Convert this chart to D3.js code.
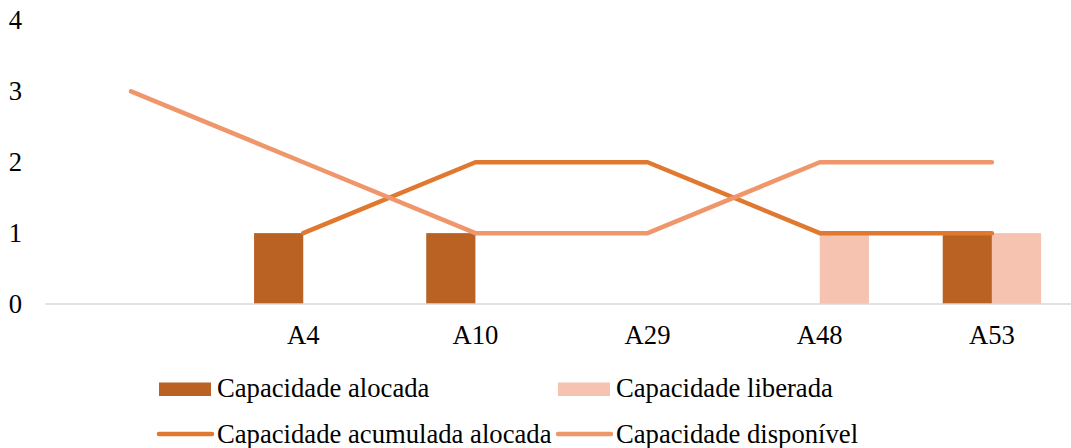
<!DOCTYPE html>
<html>
<head>
<meta charset="utf-8">
<script src="https://cdn.jsdelivr.net/npm/d3@7"></script>
<style>
  html, body { margin: 0; padding: 0; background: #fff; }
  svg { display: block; }
  text { font-family: "Liberation Serif", "Times New Roman", serif; fill: #000; }
</style>
</head>
<body>
<svg id="chart" width="1071" height="448"></svg>
<script>
// Categories along the x axis (first slot is unlabeled)
const categories = ["", "A4", "A10", "A29", "A48", "A53"];
// Bar series
const capAlocada   = [null, 1, 1, null, null, 1];
const capLiberada  = [null, null, null, null, 1, 1];
// Line series
const capAcumulada = [null, 1, 2, 2, 1, 1];
const capDisponivel = [3, 2, 1, 1, 2, 2];
// Y axis tick values
const yTicks = [0, 1, 2, 3, 4];

const series = {
  alocada:    { name: "Capacidade alocada",            color: "#BA6124" },
  liberada:   { name: "Capacidade liberada",           color: "#F5C3B0" },
  acumulada:  { name: "Capacidade acumulada alocada",  color: "#E0782F" },
  disponivel: { name: "Capacidade disponível",         color: "#F0966B" }
};

const svg = d3.select("#chart");
const fontSize = 26.67;

const x = d3.scaleBand().domain(categories).range([45, 1078]).padding(0);
const y = d3.scaleLinear().domain([0, 4]).range([304, 20.5]);
const bw = x.bandwidth();
const barW = bw / 3.5;           // two bars plus a 150% gap per category
const cx = c => x(c) + bw / 2;

// Y tick labels
svg.append("g").selectAll("text")
  .data(yTicks).join("text")
  .attr("x", 22)
  .attr("y", d => y(d))
  .attr("dy", "0.32em")
  .attr("text-anchor", "end")
  .style("font-size", fontSize + "px")
  .text(d => d);

// Bars
const barData = [];
categories.forEach((c, i) => {
  if (capAlocada[i] != null) barData.push({ c, v: capAlocada[i], off: -barW, color: series.alocada.color });
  if (capLiberada[i] != null) barData.push({ c, v: capLiberada[i], off: 0, color: series.liberada.color });
});
svg.append("g").selectAll("rect")
  .data(barData).join("rect")
  .attr("x", d => cx(d.c) + d.off)
  .attr("y", d => y(d.v))
  .attr("width", barW)
  .attr("height", d => y(0) - y(d.v))
  .attr("fill", d => d.color);

// Category axis baseline
svg.append("line")
  .attr("x1", 45).attr("x2", 1078)
  .attr("y1", y(0)).attr("y2", y(0))
  .attr("stroke", "#D9D9D9").attr("stroke-width", 1.5);

// Category labels
svg.append("g").selectAll("text")
  .data(categories).join("text")
  .attr("x", d => cx(d))
  .attr("y", 344)
  .attr("text-anchor", "middle")
  .style("font-size", fontSize + "px")
  .text(d => d);

// Lines
const lineGen = d3.line()
  .defined(d => d.v != null)
  .x(d => cx(d.c))
  .y(d => y(d.v));

[[capAcumulada, series.acumulada.color], [capDisponivel, series.disponivel.color]].forEach(([vals, color]) => {
  svg.append("path")
    .datum(categories.map((c, i) => ({ c, v: vals[i] })))
    .attr("d", lineGen)
    .attr("fill", "none")
    .attr("stroke", color)
    .attr("stroke-width", 4.5)
    .attr("stroke-linecap", "round")
    .attr("stroke-linejoin", "round");
});

// Legend
const legendItems = [
  { s: series.alocada,    type: "rect", col: 0, row: 0 },
  { s: series.liberada,   type: "rect", col: 1, row: 0 },
  { s: series.acumulada,  type: "line", col: 0, row: 1 },
  { s: series.disponivel, type: "line", col: 1, row: 1 }
];
const colX = [159, 558];
const rowY = [397, 443];
const lg = svg.append("g");
legendItems.forEach(it => {
  const x0 = colX[it.col], base = rowY[it.row];
  if (it.type === "rect") {
    lg.append("rect")
      .attr("x", x0).attr("y", base - 14.5)
      .attr("width", 52).attr("height", 13.5)
      .attr("fill", it.s.color);
  } else {
    lg.append("line")
      .attr("x1", x0).attr("x2", x0 + 53)
      .attr("y1", base - 9).attr("y2", base - 9)
      .attr("stroke", it.s.color)
      .attr("stroke-width", 4.5)
      .attr("stroke-linecap", "round");
  }
  lg.append("text")
    .attr("x", x0 + 58)
    .attr("y", base)
    .style("font-size", fontSize + "px")
    .text(it.s.name);
});
</script>
</body>
</html>
